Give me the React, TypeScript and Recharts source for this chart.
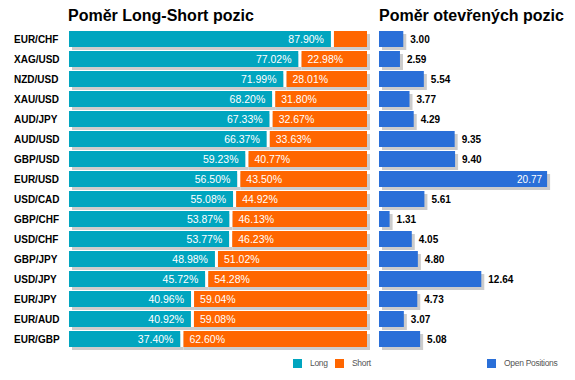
import React from "react";
import { BarChart, Bar, XAxis, YAxis, LabelList } from "recharts";

// Poměr long/short a otevřené pozice podle měnových párů
const pairs = [
  "EUR/CHF", "XAG/USD", "NZD/USD", "XAU/USD", "AUD/JPY", "AUD/USD", "GBP/USD", "EUR/USD",
  "USD/CAD", "GBP/CHF", "USD/CHF", "GBP/JPY", "USD/JPY", "EUR/JPY", "EUR/AUD", "EUR/GBP",
];
const longPct = [87.9, 77.02, 71.99, 68.2, 67.33, 66.37, 59.23, 56.5, 55.08, 53.87, 53.77, 48.98, 45.72, 40.96, 40.92, 37.4];
const shortPct = [12.1, 22.98, 28.01, 31.8, 32.67, 33.63, 40.77, 43.5, 44.92, 46.13, 46.23, 51.02, 54.28, 59.04, 59.08, 62.6];
const openPos = [3.0, 2.59, 5.54, 3.77, 4.29, 9.35, 9.4, 20.77, 5.61, 1.31, 4.05, 4.8, 12.64, 4.73, 3.07, 5.08];

const LONG = "#00a5bf";
const SHORT = "#ff6600";
const OPEN = "#2a6fd8";
const SHADOW = "#cccccc";
const FONT = "Arial, 'Liberation Sans', sans-serif";

const rows = pairs.map((pair, i) => ({ pair, long: longPct[i], short: shortPct[i], open: openPos[i] }));

function num(v: any) {
  if (Array.isArray(v)) return v[1] - v[0];
  return Number(v);
}

const LongShape = (p: any) => (
  <g>
    <rect x={p.x + 3} y={p.y + 3} width={p.width} height={p.height} fill={SHADOW} />
    <rect x={p.x} y={p.y} width={p.width} height={p.height} fill={LONG} />
  </g>
);

const ShortShape = (p: any) => (
  <g>
    <rect x={p.x + 3} y={p.y + 3} width={p.width} height={p.height} fill={SHADOW} />
    <rect x={p.x} y={p.y} width={3} height={p.height} fill="#fff" />
    <rect x={p.x + 3} y={p.y} width={Math.max(0, p.width - 3)} height={p.height} fill={SHORT} />
  </g>
);

const OpenShape = (p: any) => (
  <g>
    <rect x={p.x + 3} y={p.y + 3} width={p.width} height={p.height} fill={SHADOW} />
    <rect x={p.x} y={p.y} width={p.width} height={p.height} fill={OPEN} />
  </g>
);

const LongLabel = (p: any) => (
  <text x={p.x + p.width - 7} y={p.y + p.height / 2} textAnchor="end" dominantBaseline="central"
    fill="#fff" fontSize={10.5} fontFamily={FONT}>
    {num(p.value).toFixed(2)}%
  </text>
);

const ShortLabel = (p: any) => {
  if (p.width < 45) return null;
  return (
    <text x={p.x + 9} y={p.y + p.height / 2} textAnchor="start" dominantBaseline="central"
      fill="#fff" fontSize={10.5} fontFamily={FONT}>
      {num(p.value).toFixed(2)}%
    </text>
  );
};

const OpenLabel = (p: any) => {
  const inside = p.x + p.width + 45 > 575;
  return (
    <text x={inside ? p.x + p.width - 5 : p.x + p.width + 7} y={p.y + p.height / 2}
      textAnchor={inside ? "end" : "start"} dominantBaseline="central"
      fill={inside ? "#fff" : "#000"} fontSize={10} fontWeight={inside ? "normal" : "bold"} fontFamily={FONT}>
      {num(p.value).toFixed(2)}
    </text>
  );
};

const PairTick = (p: any) => (
  <text x={14} y={p.y} dominantBaseline="central" fontSize={10} fontWeight="bold" fill="#000" fontFamily={FONT}>
    {p.payload.value}
  </text>
);

function LegendItem({ x, color, label }: { x: number; color: string; label: string }) {
  return (
    <div style={{ position: "absolute", left: x, top: 359, display: "flex", alignItems: "center", height: 9 }}>
      <div style={{ width: 9, height: 9, background: color, marginRight: 8 }} />
      <span style={{ fontSize: 8.5, color: "#555", letterSpacing: -0.3, lineHeight: "9px" }}>{label}</span>
    </div>
  );
}

export default function App() {
  return (
    <div style={{ position: "absolute", left: 0, top: 0, width: 575, height: 380, background: "#fff", fontFamily: FONT, overflow: "hidden" }}>
      <div style={{ position: "absolute", left: 0, top: 0 }}>
        <BarChart width={575} height={380} layout="vertical" data={rows} barSize={16}
          margin={{ top: 29, bottom: 31, left: 0, right: 208 }}>
          <XAxis type="number" domain={[0, 100]} hide />
          <YAxis type="category" dataKey="pair" width={69} interval={0} tickLine={false} axisLine={false} tick={<PairTick />} />
          <Bar dataKey="long" name="Long" stackId="ls" fill={LONG} shape={<LongShape />} isAnimationActive={false}>
            <LabelList dataKey="long" content={<LongLabel />} />
          </Bar>
          <Bar dataKey="short" name="Short" stackId="ls" fill={SHORT} shape={<ShortShape />} isAnimationActive={false}>
            <LabelList dataKey="short" content={<ShortLabel />} />
          </Bar>
        </BarChart>
      </div>
      <div style={{ position: "absolute", left: 0, top: 0 }}>
        <BarChart width={575} height={380} layout="vertical" data={rows} barSize={16}
          margin={{ top: 29, bottom: 31, left: 379, right: 22 }}>
          <XAxis type="number" domain={[0, 21.5]} hide />
          <YAxis type="category" dataKey="pair" hide />
          <Bar dataKey="open" name="Open Positions" fill={OPEN} shape={<OpenShape />} isAnimationActive={false}>
            <LabelList dataKey="open" content={<OpenLabel />} />
          </Bar>
        </BarChart>
      </div>
      <div style={{ position: "absolute", left: 68, top: 8, fontSize: 16, fontWeight: "bold", lineHeight: "16px", color: "#000", whiteSpace: "nowrap" }}>
        Poměr Long-Short pozic
      </div>
      <div style={{ position: "absolute", left: 379, top: 8, fontSize: 16, fontWeight: "bold", lineHeight: "16px", color: "#000", whiteSpace: "nowrap" }}>
        Poměr otevřených pozic
      </div>
      <LegendItem x={293} color={LONG} label="Long" />
      <LegendItem x={335} color={SHORT} label="Short" />
      <LegendItem x={487} color={OPEN} label="Open Positions" />
    </div>
  );
}
